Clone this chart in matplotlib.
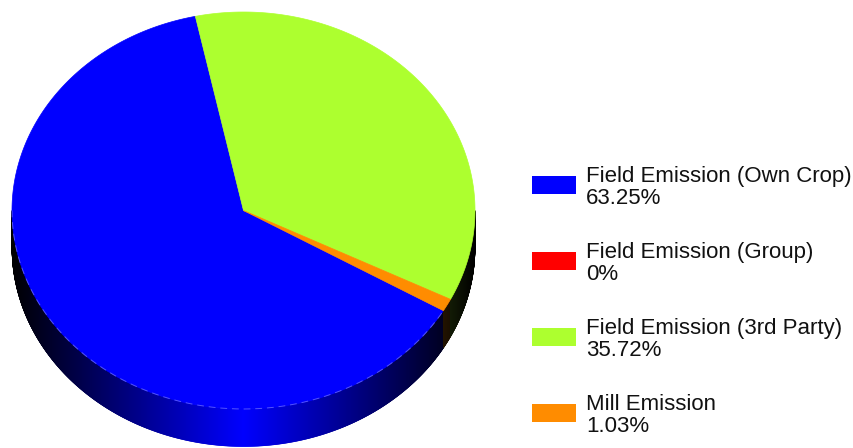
import numpy as np
import matplotlib
matplotlib.use("Agg")
import matplotlib.pyplot as plt
from matplotlib.collections import PolyCollection
from matplotlib.colors import to_rgb
from matplotlib.patches import Polygon, Rectangle

# Emission shares (percent of total)
labels = ["Field Emission (Own Crop)", "Field Emission (Group)",
          "Field Emission (3rd Party)", "Mill Emission"]
shares = [63.25, 0.0, 35.72, 1.03]
colors = ["#0000FF", "#FF0000", "#ADFF2F", "#FF8C00"]

fig = plt.figure(figsize=(8.54, 4.48), dpi=100)
ax = fig.add_axes([0, 0, 1, 1])
ax.set_xlim(0, 854)
ax.set_ylim(448, 0)
ax.axis("off")

# 3D pie geometry (pixel space)
cx, cy, rx, ry, depth = 243.5, 210.5, 231.5, 198.5, 37.5
start = -30.3  # degrees, slices run clockwise from here

vals = np.asarray(shares, dtype=float)
cum = np.cumsum(vals) / vals.sum() * 360.0
prev = np.concatenate([[0.0], cum[:-1]])


def ellipse_xy(theta_deg, dy=0.0):
    t = np.radians(theta_deg)
    return cx + rx * np.cos(t), cy - ry * np.sin(t) + dy


# Side wall: visible front half, shaded by orientation
thetas = np.linspace(180, 360, 1441)
polys, fcols = [], []
for t0, t1 in zip(thetas[:-1], thetas[1:]):
    tm = 0.5 * (t0 + t1)
    phi = (start - tm) % 360.0
    idx = min(int(np.searchsorted(cum, phi, side="right")), len(vals) - 1)
    shade = 1.0 - abs(np.cos(np.radians(tm)))
    rgb = np.array(to_rgb(colors[idx])) * shade
    x0, y0 = ellipse_xy(t0)
    x1, y1 = ellipse_xy(t1)
    polys.append([(x0, y0), (x1, y1), (x1, y1 + depth), (x0, y0 + depth)])
    fcols.append(rgb)
ax.add_collection(PolyCollection(polys, facecolors=fcols, edgecolors=fcols,
                                 linewidths=0.4, antialiased=True))

# Top face wedges
for v, p, c, col in zip(vals, prev, cum, colors):
    if v <= 0:
        continue
    a0, a1 = start - p, start - c
    arc = np.linspace(a0, a1, max(int(abs(a1 - a0) * 4), 8))
    xs, ys = ellipse_xy(arc)
    pts = np.column_stack([np.concatenate([[cx], xs]), np.concatenate([[cy], ys])])
    ax.add_patch(Polygon(pts, closed=True, facecolor=col, edgecolor=col,
                         linewidth=0.5, antialiased=True))

# Faint rim highlight along the front edge of the top face
rim = np.linspace(180, 360 + start, 400)
rx_, ry_ = ellipse_xy(rim)
ax.plot(rx_, ry_, color="#8a8aff", lw=0.7, alpha=0.6, dashes=(7, 5))

# Legend
for i, (lab, v, col) in enumerate(zip(labels, shares, colors)):
    y = 176 + 76 * i
    ax.add_patch(Rectangle((532, y), 44, 18, facecolor=col, edgecolor="none"))
    ax.text(586, 182 + 76 * i, lab, fontsize=16, family="Liberation Sans",
            color="#111111", va="baseline", ha="left")
    ax.text(586, 204 + 76 * i, f"{v:g}%", fontsize=16, family="Liberation Sans",
            color="#111111", va="baseline", ha="left")

fig.savefig("out.png", dpi=100)
